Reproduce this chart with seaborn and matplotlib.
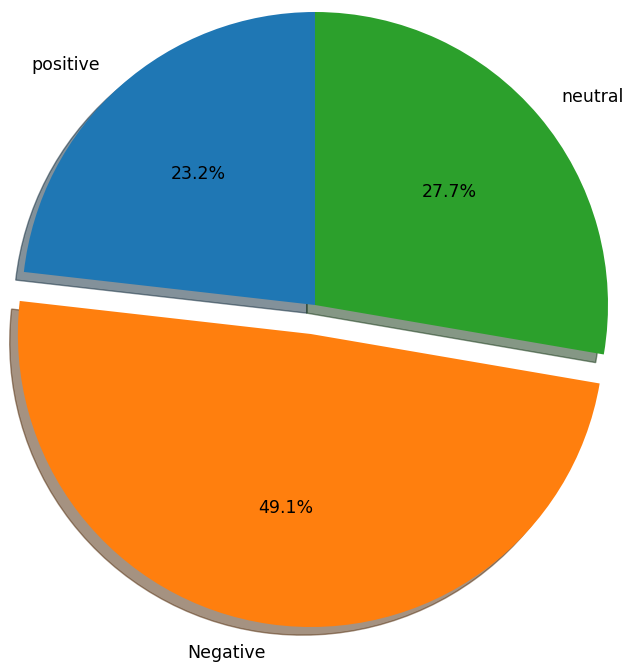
import matplotlib
matplotlib.use("Agg")
import matplotlib.pyplot as plt
import seaborn as sns

labels = ["positive", "Negative", "neutral"]
shares = [23.2, 49.1, 27.7]
explode = [0, 0.1, 0]

colors = sns.color_palette("tab10", 3)

fig = plt.figure(figsize=(6.28, 6.67), dpi=100)
ax = fig.add_axes([0, 0, 1, 1])
ax.pie(shares, labels=labels, explode=explode, colors=colors, autopct="%1.1f%%",
       shadow=True, startangle=90, textprops={"fontsize": 12.5})
r = 293.0
ax.set_xlim(-315 / r, (628 - 315) / r)
ax.set_ylim(-(667 - 305) / r, 305 / r)
ax.set_aspect("auto")
ax.axis("off")
fig.savefig("out.png", dpi=100)
